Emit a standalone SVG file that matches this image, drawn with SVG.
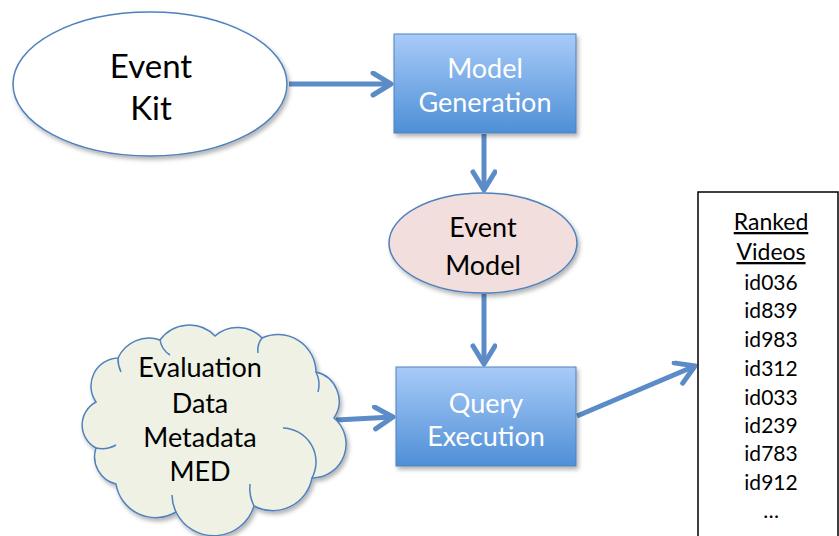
<svg xmlns="http://www.w3.org/2000/svg" width="839" height="536" viewBox="0 0 839 536">
<style>
  .lbl { font-family: Lato, "Open Sans", "Liberation Sans", sans-serif; text-anchor: middle; }
  .dark { fill: #000; font-size: 33px; }
  .mid { fill: #000; font-size: 27px; }
  .white { fill: #fff; font-size: 27px; }
  .list { fill: #000; font-size: 21px; }
  .head { font-size: 23px; }
  .conn { fill: none; stroke: #5b8cc8; stroke-width: 5; marker-end: url(#arr); }
  .box { fill: url(#blueGrad); stroke: #4f81bd; stroke-width: 1; filter: url(#shadow); }
  .cl { fill: none; stroke: #4f81bd; stroke-width: 1.5; }
</style>
<defs>
  <linearGradient id="blueGrad" x1="0" y1="0" x2="0" y2="1">
    <stop offset="0" stop-color="#a8cbf8"/>
    <stop offset="1" stop-color="#4e8fd6"/>
  </linearGradient>
  <filter id="shadow" x="-10%" y="-10%" width="130%" height="130%">
    <feDropShadow dx="2" dy="3" stdDeviation="2" flood-color="#000" flood-opacity="0.3"/>
  </filter>
  <marker id="arr" markerUnits="userSpaceOnUse" markerWidth="30" markerHeight="30" refX="22" refY="13" orient="auto">
    <path d="M4,2 L22,13 L4,24" fill="none" stroke="#5b8cc8" stroke-width="5" stroke-linecap="round" stroke-linejoin="round"/>
  </marker>
</defs>

<g id="connectors">
  <line class="conn" x1="289" y1="84" x2="391" y2="84"/>
  <line class="conn" x1="484" y1="134" x2="484" y2="190"/>
  <line class="conn" x1="484" y1="294" x2="484" y2="364"/>
  <line class="conn" x1="336" y1="420" x2="393" y2="417"/>
  <line class="conn" x1="577" y1="416" x2="695" y2="366"/>
</g>

<g id="event-kit">
  <ellipse cx="150" cy="84" rx="137" ry="72" fill="#fff" stroke="#4f81bd" stroke-width="1.5" filter="url(#shadow)"/>
  <text class="lbl dark" x="151" y="78">Event</text>
  <text class="lbl dark" x="151" y="120">Kit</text>
</g>

<g id="model-generation">
  <rect class="box" x="394" y="34" width="182" height="99"/>
  <text class="lbl white" x="485" y="78">Model</text>
  <text class="lbl white" x="485" y="112">Generation</text>
</g>

<g id="event-model">
  <ellipse cx="483" cy="243" rx="94" ry="50" fill="#f2dedc" stroke="#4f81bd" stroke-width="1.5" filter="url(#shadow)"/>
  <text class="lbl mid" x="483" y="237">Event</text>
  <text class="lbl mid" x="483" y="275">Model</text>
</g>

<g id="query-execution">
  <rect class="box" x="396" y="367" width="180" height="99"/>
  <text class="lbl white" x="486" y="413">Query</text>
  <text class="lbl white" x="486" y="446">Execution</text>
</g>

<g id="evaluation-data">
  <path d="M96,402 A28,28 0 0 1 118,358 A34,34 0 0 1 160,340 A36,36 0 0 1 215,336 A34,34 0 0 1 262,338 A38,38 0 0 1 316,372 A30,30 0 0 1 334,418 A34,34 0 0 1 312,478 A40,40 0 0 1 254,506 A42,42 0 0 1 176,512 A40,40 0 0 1 116,484 A28,28 0 0 1 96,448 A26,26 0 0 1 96,402 Z" fill="#eef1e4" stroke="#4f81bd" stroke-width="1.5" filter="url(#shadow)"/>
  <path class="cl" d="M118,358 A30,30 0 0 0 121,372"/>
  <path class="cl" d="M160,340 A22,22 0 0 0 170,355"/>
  <path class="cl" d="M262,338 A20,20 0 0 0 258,353"/>
  <path class="cl" d="M316,372 A28,28 0 0 1 318,392"/>
  <path class="cl" d="M283,428 A34,34 0 0 1 312,478"/>
  <path class="cl" d="M254,506 A40,40 0 0 1 250,484"/>
  <path class="cl" d="M176,512 A40,40 0 0 1 172,495"/>
  <path class="cl" d="M96,448 A28,28 0 0 0 116,445"/>
  <text class="lbl mid" x="200" y="377">Evaluation</text>
  <text class="lbl mid" x="200" y="413">Data</text>
  <text class="lbl mid" x="200" y="447">Metadata</text>
  <text class="lbl mid" x="200" y="481">MED</text>
</g>

<g id="ranked-videos">
  <rect x="698" y="192" width="140" height="360" fill="#fff" stroke="#000" stroke-width="1.5"/>
  <text class="lbl list head" x="771" y="230" text-decoration="underline">Ranked</text>
  <text class="lbl list head" x="771" y="260" text-decoration="underline">Videos</text>
  <text class="lbl list" x="771" y="290">id036</text>
  <text class="lbl list" x="771" y="318">id839</text>
  <text class="lbl list" x="771" y="347">id983</text>
  <text class="lbl list" x="771" y="376">id312</text>
  <text class="lbl list" x="771" y="405">id033</text>
  <text class="lbl list" x="771" y="433">id239</text>
  <text class="lbl list" x="771" y="461">id783</text>
  <text class="lbl list" x="771" y="490">id912</text>
  <text class="lbl list" x="771" y="518">…</text>
</g>
</svg>
